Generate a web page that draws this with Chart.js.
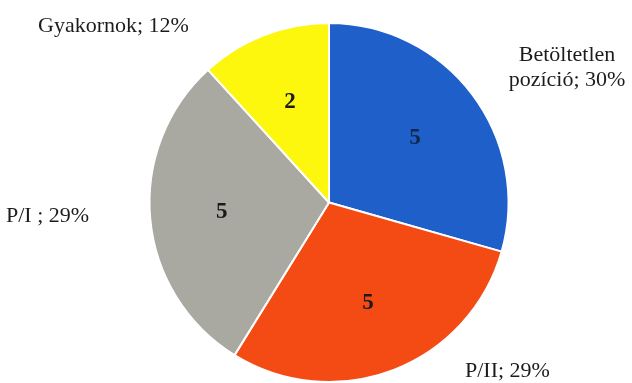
<!DOCTYPE html>
<html>
<head>
<meta charset="utf-8">
<script src="https://cdn.jsdelivr.net/npm/chart.js@4"></script>
<style>
  html, body { margin: 0; padding: 0; background: #fff; }
  #wrap { width: 632px; height: 383px; }
</style>
</head>
<body>
<div id="wrap"><canvas id="pieChart" width="632" height="383"></canvas></div>
<script>
// data
const categories = ["Betöltetlen pozíció", "P/II", "P/I", "Gyakornok"];
const counts = [5, 5, 5, 2];
const percentLabels = ["30%", "29%", "29%", "12%"];
const sliceColors = ["#1f5fc9", "#f44b15", "#a9a9a2", "#fcf70c"];

// outer label text lines (as in the original, incl. the odd spacing)
const outerText = [
  ["Betöltetlen", "pozíció; " + percentLabels[0]],
  ["P/II; " + percentLabels[1]],
  ["P/I ; " + percentLabels[2]],
  ["Gyakornok; " + percentLabels[3]]
];
// where each outer label sits (x, y of first line centre, alignment)
const outerPos = [
  { x: 567, y: 55, align: "center" },
  { x: 465, y: 371, align: "left" },
  { x: 6, y: 216, align: "left" },
  { x: 38, y: 26, align: "left" }
];

const labelPlugin = {
  id: "pieLabels",
  afterDatasetsDraw(chart) {
    const ctx = chart.ctx;
    const meta = chart.getDatasetMeta(0);
    ctx.save();
    // values inside the slices
    ctx.font = "bold 23px 'Liberation Serif', serif";
    ctx.textAlign = "center";
    ctx.textBaseline = "middle";
    meta.data.forEach((arc, i) => {
      const mid = (arc.startAngle + arc.endAngle) / 2;
      const r = arc.outerRadius * 0.6;
      ctx.fillStyle = i === 0 ? "#14284a" : "#1a1a1a";
      ctx.fillText(String(counts[i]), arc.x + Math.cos(mid) * r, arc.y + Math.sin(mid) * r);
    });
    // category labels outside
    ctx.font = "22px 'Liberation Serif', serif";
    ctx.fillStyle = "#1c1c1c";
    outerText.forEach((lines, i) => {
      const p = outerPos[i];
      ctx.textAlign = p.align;
      lines.forEach((t, k) => ctx.fillText(t, p.x, p.y + k * 25));
    });
    ctx.restore();
  }
};

new Chart(document.getElementById("pieChart").getContext("2d"), {
  type: "pie",
  data: {
    labels: categories,
    datasets: [{
      data: counts,
      backgroundColor: sliceColors,
      borderColor: "#ffffff",
      borderWidth: 2
    }]
  },
  options: {
    responsive: false,
    animation: false,
    layout: { padding: { left: 147, right: 121, top: 22, bottom: -3 } },
    plugins: {
      legend: { display: false },
      tooltip: { enabled: false }
    }
  },
  plugins: [labelPlugin]
});
</script>
</body>
</html>
